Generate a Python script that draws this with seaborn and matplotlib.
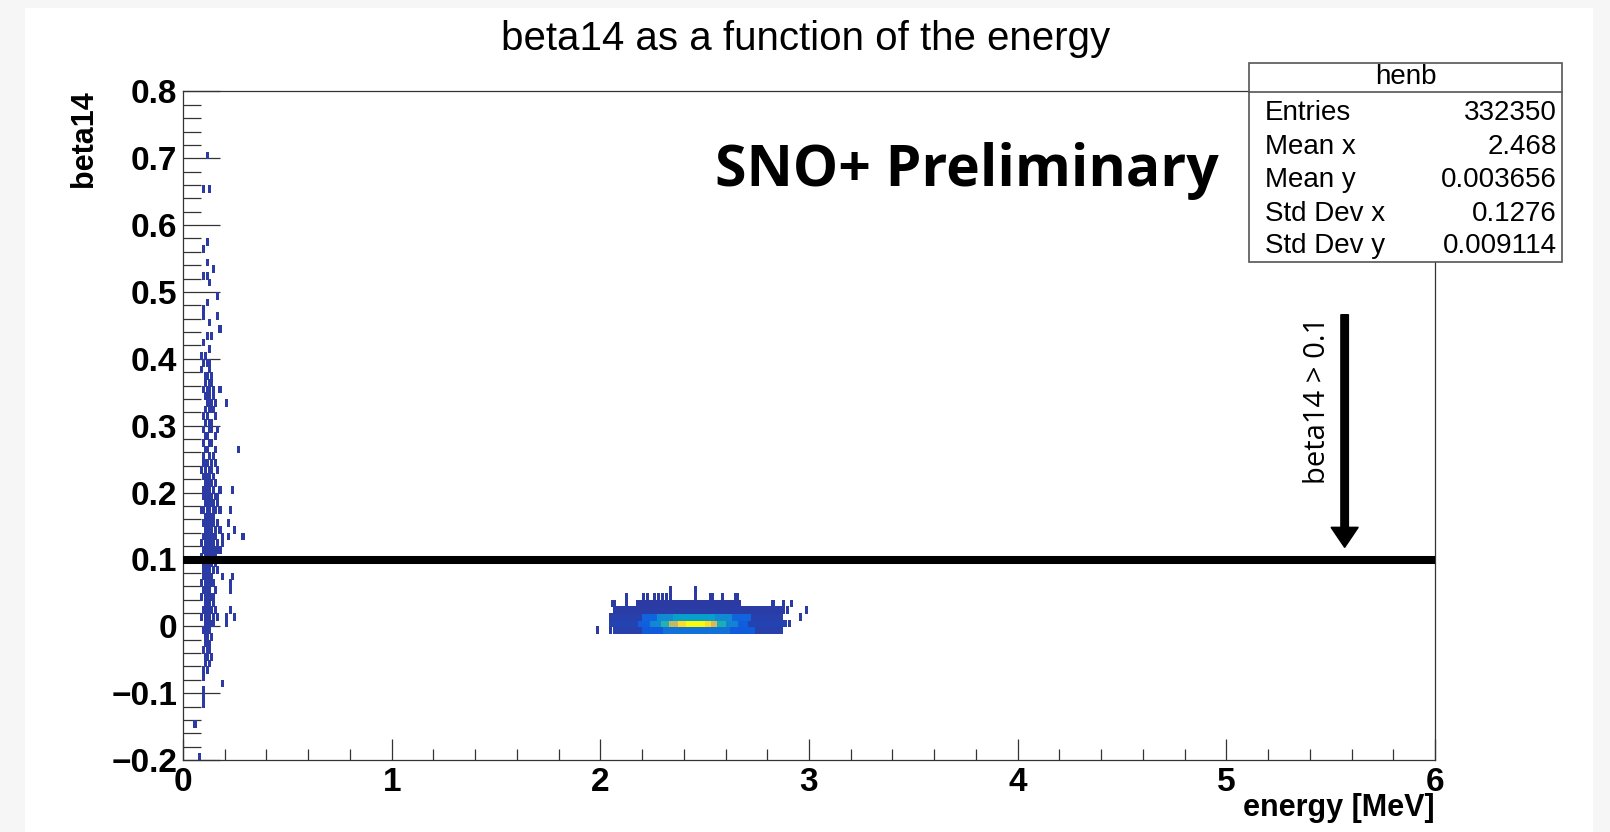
import matplotlib
matplotlib.use("Agg")
import matplotlib.pyplot as plt
from matplotlib.colors import LinearSegmentedColormap
from matplotlib.lines import Line2D
from matplotlib.patches import Rectangle
from matplotlib.ticker import MultipleLocator
import numpy as np
import pandas as pd
import seaborn as sns

# --- low energy events (bin centres, one count each)
low_x = [0.115,
         0.095, 0.125,
         0.115, 0.095,
         0.115, 0.145, 0.095, 0.115, 0.125,
         0.165, 0.115, 0.095, 0.095, 0.165, 0.125, 0.175,
         0.115, 0.135, 0.095, 0.125, 0.085, 0.095, 0.115, 0.085,
         0.115, 0.125, 0.115, 0.145, 0.175, 0.125, 0.105,
         0.115, 0.135, 0.155, 0.205, 0.105, 0.125, 0.145, 0.095, 0.115,
         0.095, 0.135, 0.165, 0.105, 0.095, 0.135, 0.155, 0.265,
         0.095, 0.105, 0.115, 0.105, 0.125, 0.165, 0.095, 0.115, 0.145, 0.105, 0.125, 0.135, 0.095, 0.115, 0.235,
         0.095, 0.115, 0.135, 0.155, 0.105, 0.125, 0.145, 0.165, 0.085, 0.115, 0.225, 0.105, 0.125, 0.145, 0.215,
         0.095, 0.115, 0.135, 0.105, 0.125, 0.155, 0.245, 0.095, 0.115, 0.135, 0.185, 0.215, 0.285,
         0.105, 0.125, 0.145, 0.185, 0.095, 0.115, 0.135, 0.155, 0.175,
         0.105, 0.125, 0.145, 0.095, 0.115, 0.105, 0.125, 0.145, 0.165,
         0.115, 0.135, 0.185, 0.235, 0.105, 0.125, 0.225, 0.095, 0.115, 0.225,
         0.105, 0.135, 0.125, 0.095, 0.115, 0.135, 0.225, 0.105, 0.125, 0.165, 0.205, 0.245, 0.115, 0.145, 0.205,
         0.105, 0.125, 0.105, 0.125, 0.095, 0.115, 0.135, 0.105, 0.125, 0.095,
         0.095, 0.185, 0.095, 0.095, 0.095, 0.055, 0.075,
         # second pass over the dense part of the column
         0.105, 0.125, 0.105, 0.135, 0.125, 0.115, 0.125, 0.135, 0.105, 0.125,
         0.125, 0.115, 0.125, 0.105, 0.115, 0.125, 0.135, 0.095, 0.135, 0.105, 0.125, 0.115, 0.105, 0.125, 0.145,
         0.105, 0.125, 0.115, 0.135, 0.095, 0.125, 0.145, 0.115, 0.135, 0.105, 0.125, 0.145, 0.115, 0.135,
         0.105, 0.125, 0.145, 0.115, 0.135, 0.105, 0.125, 0.145,
         0.115, 0.135, 0.105, 0.125, 0.135, 0.095, 0.115, 0.095, 0.105, 0.125, 0.115, 0.135, 0.105, 0.125,
         0.115, 0.125, 0.105, 0.115, 0.105, 0.125, 0.115, 0.105, 0.125, 0.115, 0.115, 0.105, 0.115,
         # outer part of the column
         0.155, 0.145, 0.155, 0.085, 0.155, 0.175, 0.165, 0.155, 0.175, 0.165, 0.175, 0.155, 0.165, 0.085,
         0.165, 0.155, 0.085, 0.155, 0.145, 0.085, 0.155, 0.145, 0.085, 0.145, 0.155, 0.085, 0.145, 0.135,
         0.095, 0.135, 0.115, 0.125, 0.105, 0.115, 0.125, 0.105, 0.135, 0.095, 0.145, 0.155, 0.135]
low_y = [0.705,
         0.655, 0.655,
         0.575, 0.565,
         0.545, 0.535, 0.525, 0.525, 0.515,
         0.495, 0.485, 0.475, 0.465, 0.465, 0.455, 0.445,
         0.435, 0.435, 0.425, 0.415, 0.405, 0.395, 0.395, 0.385,
         0.375, 0.365, 0.355, 0.355, 0.355, 0.345, 0.345,
         0.335, 0.335, 0.335, 0.335, 0.325, 0.325, 0.325, 0.315, 0.315,
         0.295, 0.295, 0.295, 0.285, 0.275, 0.275, 0.265, 0.265,
         0.255, 0.245, 0.245, 0.235, 0.235, 0.235, 0.225, 0.225, 0.225, 0.215, 0.215, 0.215, 0.205, 0.205, 0.205,
         0.195, 0.195, 0.195, 0.195, 0.185, 0.185, 0.185, 0.185, 0.175, 0.175, 0.175, 0.165, 0.165, 0.165, 0.155,
         0.155, 0.155, 0.155, 0.145, 0.145, 0.145, 0.145, 0.135, 0.135, 0.135, 0.135, 0.135, 0.135,
         0.125, 0.125, 0.125, 0.125, 0.115, 0.115, 0.115, 0.115, 0.115,
         0.105, 0.105, 0.105, 0.095, 0.095, 0.085, 0.085, 0.085, 0.085,
         0.075, 0.075, 0.075, 0.075, 0.065, 0.065, 0.065, 0.055, 0.055, 0.055,
         0.045, 0.045, 0.035, 0.025, 0.025, 0.025, 0.025, 0.015, 0.015, 0.015, 0.015, 0.015, 0.005, 0.005, 0.005,
         -0.005, -0.005, -0.015, -0.025, -0.035, -0.035, -0.045, -0.055, -0.055, -0.065,
         -0.075, -0.085, -0.095, -0.105, -0.115, -0.145, -0.195,
         0.375, 0.385, 0.365, 0.365, 0.355, 0.345, 0.335, 0.325, 0.305, 0.305,
         0.295, 0.285, 0.275, 0.265, 0.265, 0.255, 0.245, 0.245, 0.235, 0.225, 0.225, 0.215, 0.205, 0.205, 0.205,
         0.195, 0.195, 0.185, 0.185, 0.175, 0.175, 0.175, 0.165, 0.165, 0.155, 0.155, 0.155, 0.145, 0.145,
         0.135, 0.135, 0.135, 0.125, 0.125, 0.115, 0.115, 0.115,
         0.105, 0.105, 0.095, 0.095, 0.095, 0.085, 0.085, 0.075, 0.075, 0.075, 0.065, 0.065, 0.055, 0.055,
         0.045, 0.045, 0.035, 0.035, 0.025, 0.025, 0.015, 0.005, 0.005, -0.005, -0.015, -0.025, -0.045,
         0.285, 0.255, 0.245, 0.235, 0.215, 0.205, 0.195, 0.175, 0.175, 0.155, 0.145, 0.135, 0.125, 0.125,
         0.115, 0.105, 0.105, 0.095, 0.065, 0.065, 0.055, 0.045, 0.045, 0.035, 0.025, 0.015, 0.015, 0.005,
         -0.005, -0.015, -0.025, -0.035, -0.045, -0.065, 0.395, 0.405, 0.375, 0.355, 0.345, 0.315, 0.305]

# --- main blob: runs of bins in one beta14 row (row centre, energy from, energy to, counts per bin)
blob_y = [-0.005, -0.005, -0.005, -0.005, -0.005,
          0.005, 0.005, 0.005, 0.005, 0.005, 0.005, 0.005, 0.005, 0.005, 0.005, 0.005, 0.005, 0.005,
          0.015, 0.015, 0.015, 0.015, 0.015, 0.015, 0.015,
          0.025, 0.035]
blob_x0 = [2.06, 2.20, 2.30, 2.62, 2.74,
           2.04, 2.18, 2.24, 2.29, 2.33, 2.37, 2.41, 2.50, 2.53, 2.56, 2.60, 2.66, 2.71,
           2.05, 2.20, 2.27, 2.35, 2.55, 2.63, 2.72,
           2.06, 2.17]
blob_x1 = [2.20, 2.30, 2.62, 2.74, 2.87,
           2.18, 2.24, 2.29, 2.33, 2.37, 2.41, 2.50, 2.53, 2.56, 2.60, 2.66, 2.71, 2.89,
           2.20, 2.27, 2.35, 2.55, 2.63, 2.72, 2.87,
           2.88, 2.67]
blob_n = [200, 1100, 1800, 1100, 200,
          300, 1300, 2500, 4200, 6500, 8300, 9000, 8300, 6800, 4000, 2400, 1200, 300,
          200, 1400, 2600, 3300, 2600, 1400, 200,
          60, 15]

# --- sparse cells around the blob edges
edge_x = [1.985, 2.045, 2.045, 2.055, 2.065, 2.125, 2.125,
          2.205, 2.225, 2.255, 2.275, 2.295, 2.315, 2.335, 2.335, 2.455, 2.455,
          2.525, 2.535, 2.585, 2.645, 2.655,
          2.825, 2.875, 2.895, 2.905, 2.915, 2.955, 2.985]
edge_y = [-0.005, 0.015, -0.005, 0.035, 0.035, 0.045, 0.035,
          0.045, 0.045, 0.045, 0.045, 0.045, 0.045, 0.045, 0.055, 0.045, 0.055,
          0.045, 0.045, 0.045, 0.045, 0.045,
          0.035, 0.035, 0.025, 0.005, 0.035, 0.015, 0.025]

stats_names = ["Entries", "Mean x", "Mean y", "Std Dev x", "Std Dev y"]
stats_values = ["332350", "2.468", "0.003656", "0.1276", "0.009114"]

y_ticks = [-0.2, -0.1, 0.0, 0.1, 0.2, 0.3, 0.4, 0.5, 0.6, 0.7, 0.8]
y_tick_labels = ["\u22120.2", "\u22120.1", "0", "0.1", "0.2", "0.3", "0.4", "0.5", "0.6", "0.7", "0.8"]
x_ticks = [0, 1, 2, 3, 4, 5, 6]
cut_beta = 0.0995
arrow_energy = 5.567
arrow_top, arrow_tip = 0.466, 0.118

# --- build the table of filled bins
rows = []
for x, y in zip(low_x + edge_x, low_y + edge_y):
    rows.append((x, y, 1))
for y, x0, x1, n in zip(blob_y, blob_x0, blob_x1, blob_n):
    for x in np.arange(x0 + 0.005, x1, 0.01):
        rows.append((x, y, n))
df = pd.DataFrame(rows, columns=["energy", "beta14", "n"])

sns.set_style("white")
plt.rcParams["font.family"] = ["Liberation Sans", "DejaVu Sans"]
plt.rcParams["text.color"] = "black"
plt.rcParams["xtick.color"] = "black"
plt.rcParams["ytick.color"] = "black"

W, H = 1610, 832
fx = lambda px: px / W
fy = lambda py: 1 - py / H

fig = plt.figure(figsize=(16.1, 8.32), dpi=100, facecolor="#f6f6f6")
fig.add_artist(Rectangle((fx(25), 0), fx(1593) - fx(25), fy(8), transform=fig.transFigure,
                         facecolor="white", edgecolor="none", zorder=-10))
ax = fig.add_axes([fx(183), fy(760), fx(1435) - fx(183), fy(91.4) - fy(760)])
ax.set_facecolor("white")

# ROOT kBird-like palette
bird = LinearSegmentedColormap.from_list("bird", [
    (0.0, (0.17, 0.23, 0.64)),
    (0.125, (0.06, 0.36, 0.87)),
    (0.25, (0.08, 0.50, 0.84)),
    (0.375, (0.02, 0.64, 0.79)),
    (0.5, (0.18, 0.72, 0.64)),
    (0.625, (0.53, 0.75, 0.47)),
    (0.75, (0.82, 0.73, 0.35)),
    (0.875, (1.0, 0.79, 0.20)),
    (1.0, (0.98, 0.98, 0.05)),
])

xedges = np.linspace(0, 6, 601)
yedges = np.linspace(-0.2, 0.8, 101)
sns.histplot(data=df, x="energy", y="beta14", weights="n", bins=[xedges, yedges],
             cmap=bird, vmin=0, vmax=9000, cbar=False, ax=ax,
             edgecolor="face", linewidth=0.5)

ax.set_xlim(0, 6)
ax.set_ylim(-0.2, 0.8)
ax.set_xlabel("")
ax.set_ylabel("")
ax.set_xticks(x_ticks)
ax.set_xticklabels([str(t) for t in x_ticks], fontsize=24, fontweight="bold")
ax.set_yticks(y_ticks)
ax.set_yticklabels(y_tick_labels, fontsize=24, fontweight="bold")
ax.xaxis.set_minor_locator(MultipleLocator(0.2))
ax.yaxis.set_minor_locator(MultipleLocator(0.02))
ax.tick_params(which="both", left=True, bottom=True, top=False, right=False)
ax.tick_params(axis="y", which="major", direction="in", length=26.6, width=0.9, color="#333333", pad=4)
ax.tick_params(axis="y", which="minor", direction="in", length=13, width=0.9, color="#333333")
ax.tick_params(axis="x", which="major", direction="in", length=15, width=0.9, color="#333333", pad=5)
ax.tick_params(axis="x", which="minor", direction="in", length=8, width=0.9, color="#333333")
for s in ax.spines.values():
    s.set_color("#333333")
    s.set_linewidth(0.9)

ax.axhline(cut_beta, color="black", lw=5.8, zorder=5)
ax.arrow(arrow_energy, arrow_top, 0, arrow_tip - arrow_top, width=0.036, head_width=0.13,
         head_length=0.03, length_includes_head=True, color="black", zorder=6)
ax.text(arrow_energy - 0.13, 0.338, "beta14 > 0.1", rotation=90, ha="center", va="center",
        fontsize=21, family=["Open Sans", "DejaVu Sans"], color="black")

fig.text(fx(806), fy(39), "beta14 as a function of the energy", ha="center", va="center", fontsize=29)
fig.text(fx(84), fy(90), "beta14", rotation=90, ha="center", va="top", fontsize=22, fontweight="bold")
fig.text(fx(1435), fy(808), "energy [MeV]", ha="right", va="center", fontsize=22, fontweight="bold")
fig.text(fx(967), fy(186), "SNO+ Preliminary", ha="center", va="baseline", fontsize=41,
         fontweight="bold", family=["Open Sans", "DejaVu Sans"], color="black")

# --- stats box
bx0, bx1, by0, by1 = 1249, 1562, 63, 262
fig.add_artist(Rectangle((fx(bx0), fy(by1)), fx(bx1) - fx(bx0), fy(by0) - fy(by1), transform=fig.transFigure,
                         facecolor="white", edgecolor="#555555", lw=1.2, zorder=5))
fig.add_artist(Line2D([fx(bx0), fx(bx1)], [fy(92), fy(92)], transform=fig.transFigure,
                      color="#555555", lw=1.2, zorder=6))
fig.text(fx((bx0 + bx1) / 2), fy(77), "henb", ha="center", va="center", fontsize=20, zorder=7)
row_y = [113, 147, 180, 214, 246]
for name, value, py in zip(stats_names, stats_values, row_y):
    fig.text(fx(1265), fy(py), name, ha="left", va="center", fontsize=20, zorder=7)
    fig.text(fx(1557), fy(py), value, ha="right", va="center", fontsize=20, zorder=7)

fig.savefig("out.png", dpi=100, facecolor=fig.get_facecolor())
